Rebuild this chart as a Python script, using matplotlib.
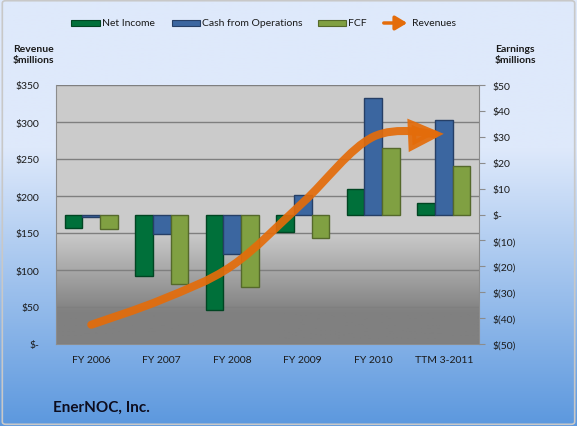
import matplotlib.pyplot as plt
import numpy as np
from matplotlib.path import Path
from matplotlib.patches import FancyArrowPatch, Rectangle, FancyBboxPatch
from matplotlib.ticker import FuncFormatter

plt.rcParams['font.family'] = ['Lato', 'DejaVu Sans']

categories = ['FY 2006', 'FY 2007', 'FY 2008', 'FY 2009', 'FY 2010', 'TTM 3-2011']
net_income = [-5.4, -23.8, -37.0, -6.8, 9.9, 4.6]
cash_ops = [-1.0, -7.5, -15.2, 7.7, 44.9, 36.3]
fcf = [-5.7, -27.0, -27.9, -9.0, 25.6, 18.9]
revenues = [26, 60, 106, 191, 280, 284]

c_ni, e_ni = '#00703a', '#004522'
c_cfo, e_cfo = '#3b66a0', '#263f66'
c_fcf, e_fcf = '#80a042', '#55692b'
c_rev = '#e46c0a'
txt = '#1a1a1a'

fig = plt.figure(figsize=(5.77, 4.27), dpi=100)

# figure background gradient
bg = fig.add_axes([0, 0, 1, 1], zorder=-10)
bg.axis('off')
t = np.linspace(0, 1, 256)[:, None]  # 0 = top, 1 = bottom
top = np.array([222, 233, 251]) / 255
bot = np.array([92, 152, 222]) / 255
k = np.clip((t - 0.35) / 0.65, 0, 1)
grad = top * (1 - k[..., None]) + bot * k[..., None]
bg.imshow(grad, aspect='auto', extent=[0, 1, 0, 1], transform=bg.transAxes)
bg.add_patch(FancyBboxPatch((0.004, 0.004), 0.992, 0.992, boxstyle='round,pad=0,rounding_size=0.006',
                            transform=bg.transAxes, fill=False, ec='#c8c8c8', lw=1.2))

x = np.arange(len(categories))
pos = [56 / 577, 1 - 345 / 427, (479 - 56) / 577, (345 - 86) / 427]

# revenue axis (left) with background and gridlines
ax = fig.add_axes(pos)
g = np.linspace(0, 1, 256)[:, None]  # 0 = bottom, 1 = top
shade = np.interp(g, [0, 0.12, 0.43, 1], [128, 128, 203, 204]) / 255
ax.imshow(np.repeat(shade[::-1], 3, axis=1).reshape(256, 1, 3), aspect='auto',
          extent=[0, 1, 0, 1], transform=ax.transAxes, zorder=0)
ax.set_xlim(-0.5, len(categories) - 0.5)
ax.set_ylim(0, 350)
ax.set_yticks(np.arange(0, 351, 50))
ax.yaxis.set_major_formatter(FuncFormatter(lambda v, p: '$-' if v == 0 else f'${v:.0f}'))
ax.grid(axis='y', color='#7f7f7f', lw=1)
ax.set_axisbelow(True)
ax.set_xticks(x)
ax.set_xticklabels(categories)
ax.tick_params(axis='x', length=0, pad=8, labelsize=7.5, colors=txt)
ax.tick_params(axis='y', length=0, pad=12, labelsize=7.5, colors=txt)
for s in ['top', 'right']:
    ax.spines[s].set_visible(False)
ax.spines['left'].set_color('#8c8c8c')
ax.spines['bottom'].set_color('#8c8c8c')

# earnings axis (right) with bars
ax2 = ax.twinx()
ax2.set_ylim(-50, 50)
ax2.set_yticks(np.arange(-50, 51, 10))
ax2.yaxis.set_major_formatter(FuncFormatter(
    lambda v, p: '$-' if v == 0 else (f'$({-v:.0f})' if v < 0 else f'${v:.0f}')))
ax2.tick_params(axis='y', length=4, direction='out', color='#8c8c8c', pad=6, labelsize=7.5, colors=txt)
for s in ['top', 'left', 'bottom']:
    ax2.spines[s].set_visible(False)
ax2.spines['right'].set_color('#8c8c8c')
w = 0.25
ax2.bar(x - w, net_income, w, color=c_ni, edgecolor=e_ni, lw=1)
ax2.bar(x, cash_ops, w, color=c_cfo, edgecolor=e_cfo, lw=1)
ax2.bar(x + w, fcf, w, color=c_fcf, edgecolor=e_fcf, lw=1)

# smoothed revenue arrow on top
ax3 = ax.twinx()
ax3.set_ylim(0, 350)
ax3.axis('off')
pts = np.column_stack([x, revenues]).astype(float)
verts = [pts[0]]
codes = [Path.MOVETO]
n = len(pts)
for i in range(n - 1):
    p0 = pts[max(i - 1, 0)]
    p3 = pts[min(i + 2, n - 1)]
    c1 = pts[i] + (pts[i + 1] - p0) / 6
    c2 = pts[i + 1] - (p3 - pts[i]) / 6
    verts += [c1, c2, pts[i + 1]]
    codes += [Path.CURVE4] * 3
arrow = FancyArrowPatch(path=Path(verts, codes), arrowstyle='-|>,head_length=16,head_width=7.5',
                        color=c_rev, lw=5.8, alpha=0.92, capstyle='round', joinstyle='miter')
ax3.add_patch(arrow)

# axis titles
fig.text(13 / 577, 1 - 55 / 427, 'Revenue\n$millions', fontsize=7.5, fontweight='bold',
         color=txt, ha='left', va='center', linespacing=1.4)
fig.text(495 / 577, 1 - 55 / 427, 'Earnings\n$millions', fontsize=7.5, fontweight='bold',
         color=txt, ha='left', va='center', linespacing=1.4)

# legend
ly = 1 - 24 / 427
for x0, x1, fc, ec, label in [(71, 100, c_ni, e_ni, 'Net Income'),
                              (172, 200, c_cfo, e_cfo, 'Cash from Operations'),
                              (318, 346, c_fcf, e_fcf, 'FCF')]:
    fig.patches.append(Rectangle((x0 / 577, ly - 3 / 427), (x1 - x0) / 577, 6 / 427,
                                 transform=fig.transFigure, fc=fc, ec=ec, lw=0.8))
    fig.text((x1 + 2) / 577, ly, label, fontsize=7.5, color=txt, ha='left', va='center')
fig.patches.append(FancyArrowPatch((381 / 577, ly), (410 / 577, ly), transform=fig.transFigure,
                                   arrowstyle='-|>,head_length=5,head_width=3', color=c_rev,
                                   lw=2.5, mutation_scale=1.4))
fig.text(412 / 577, ly, 'Revenues', fontsize=7.5, color=txt, ha='left', va='center')

fig.text(53 / 577, 1 - 408 / 427, 'EnerNOC, Inc.', fontsize=11, fontweight='bold',
         color='#0d0d1f', ha='left', va='center')

fig.savefig('out.png', dpi=100)
